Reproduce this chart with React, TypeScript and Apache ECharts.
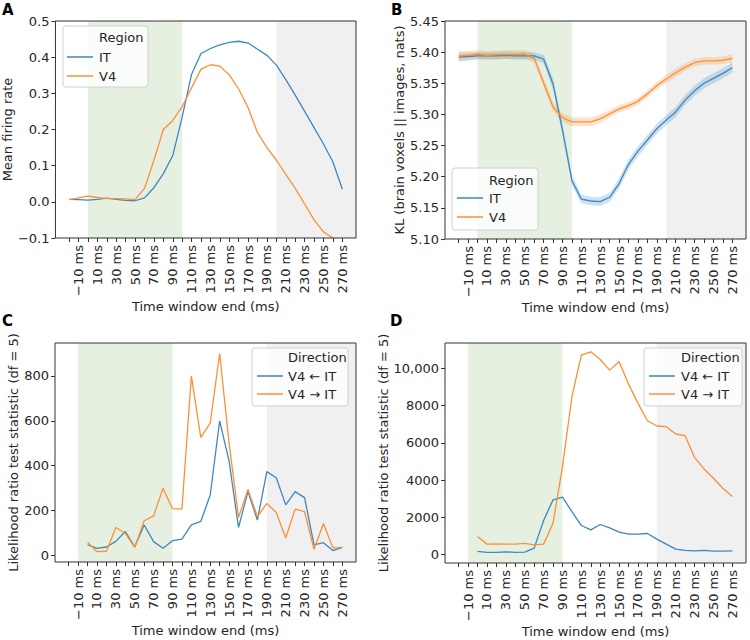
import React, { useEffect, useRef } from "react";
import * as echarts from "echarts";

// ---------- data ----------
const timesAB = [-20, -10, 0, 10, 20, 30, 40, 50, 60, 70, 80, 90, 100, 110, 120, 130, 140, 150, 160, 170, 180, 190, 200, 210, 220, 230, 240, 250, 260, 270];
const timesCD = [0, 10, 20, 30, 40, 50, 60, 70, 80, 90, 100, 110, 120, 130, 140, 150, 160, 170, 180, 190, 200, 210, 220, 230, 240, 250, 260, 270];
const tickValues = [-20, -10, 0, 10, 20, 30, 40, 50, 60, 70, 80, 90, 100, 110, 120, 130, 140, 150, 160, 170, 180, 190, 200, 210, 220, 230, 240, 250, 260, 270];
const labelValues = [-10, 10, 30, 50, 70, 90, 110, 130, 150, 170, 190, 210, 230, 250, 270];

// Panel A: mean firing rate
const rateIT = [0.007, 0.006, 0.005, 0.007, 0.010, 0.007, 0.004, 0.003, 0.011, 0.039, 0.078, 0.128, 0.235, 0.353, 0.410, 0.424, 0.434, 0.441, 0.444, 0.439, 0.422, 0.405, 0.378, 0.338, 0.295, 0.250, 0.205, 0.160, 0.110, 0.035];
const rateV4 = [0.006, 0.011, 0.016, 0.012, 0.009, 0.009, 0.008, 0.006, 0.037, 0.115, 0.200, 0.225, 0.263, 0.315, 0.367, 0.379, 0.375, 0.351, 0.312, 0.260, 0.191, 0.150, 0.115, 0.076, 0.037, -0.006, -0.050, -0.083, -0.100, -0.120];

// Panel B: KL
const klIT = [5.392, 5.393, 5.394, 5.394, 5.394, 5.395, 5.394, 5.394, 5.394, 5.389, 5.349, 5.275, 5.194, 5.164, 5.161, 5.160, 5.167, 5.189, 5.220, 5.241, 5.259, 5.277, 5.291, 5.304, 5.323, 5.338, 5.350, 5.358, 5.366, 5.375];
const klV4 = [5.394, 5.395, 5.397, 5.395, 5.396, 5.396, 5.396, 5.397, 5.390, 5.351, 5.312, 5.295, 5.288, 5.288, 5.288, 5.293, 5.301, 5.309, 5.314, 5.321, 5.333, 5.346, 5.357, 5.367, 5.376, 5.383, 5.386, 5.386, 5.387, 5.390];
const klITci = [0.007, 0.007, 0.006, 0.006, 0.006, 0.006, 0.006, 0.006, 0.006, 0.007, 0.009, 0.009, 0.008, 0.007, 0.007, 0.007, 0.007, 0.008, 0.008, 0.008, 0.008, 0.008, 0.008, 0.008, 0.008, 0.008, 0.008, 0.008, 0.008, 0.008];
const klV4ci = [0.008, 0.007, 0.007, 0.007, 0.007, 0.007, 0.007, 0.007, 0.007, 0.007, 0.007, 0.007, 0.007, 0.007, 0.007, 0.007, 0.006, 0.006, 0.006, 0.006, 0.006, 0.006, 0.007, 0.007, 0.006, 0.006, 0.006, 0.006, 0.006, 0.007];

// Panel C: likelihood ratio statistic
const lrC_fromIT = [47, 31, 37, 62, 106, 38, 135, 61, 31, 65, 72, 136, 151, 269, 600, 420, 124, 284, 157, 373, 346, 225, 284, 257, 46, 56, 21, 35];
const lrC_toIT = [58, 16, 18, 124, 98, 35, 154, 176, 299, 208, 206, 800, 526, 590, 900, 500, 169, 294, 172, 231, 191, 77, 206, 195, 27, 142, 33, 35];

// Panel D: likelihood ratio statistic
const lrD_fromIT = [161, 107, 107, 143, 107, 125, 340, 1825, 2934, 3077, 2300, 1556, 1324, 1610, 1431, 1199, 1091, 1091, 1127, 823, 555, 286, 215, 197, 215, 179, 179, 197];
const lrD_toIT = [966, 555, 573, 555, 555, 590, 519, 555, 1682, 4723, 8480, 10716, 10895, 10483, 9911, 10376, 9160, 8122, 7192, 6906, 6870, 6476, 6387, 5224, 4598, 4097, 3560, 3113];

const shadeAB = [0, 100, 200];
const shadeCD = [-10, 90, 190];
const ticksC = [0, 200, 400, 600, 800];
const ticksD = [0, 2000, 4000, 6000, 8000, 10000];

// ---------- styling ----------
const FONT = "DejaVu Sans";
const TXT = "#262626";
const BLUE = "#3d87c2";
const ORANGE = "#fd8f34";
const GREEN_BG = "#e5f0e1";
const GRAY_BG = "#f0f0f0";
const X_MIN = -34.5;
const X_MAX = 284.5;

const grids = [
  { left: 55, top: 21, width: 301, height: 217 },
  { left: 445, top: 21, width: 301, height: 218 },
  { left: 55, top: 343, width: 301, height: 219 },
  { left: 445, top: 343, width: 301, height: 220 },
];

const zip = (xs: number[], ys: number[]) => xs.map((x, i) => [x, ys[i]]);
const minus = (s: string) => s.replace("-", "\u2212");

function xAxisCfg(gridIndex: number) {
  return {
    type: "value",
    gridIndex,
    min: X_MIN,
    max: X_MAX,
    name: "Time window end (ms)",
    nameLocation: "middle",
    nameGap: 60,
    nameTextStyle: { fontFamily: FONT, fontSize: 13, color: TXT },
    axisLine: { show: false, onZero: false },
    axisTick: { show: true, length: 4, customValues: tickValues, lineStyle: { color: "#333", width: 1 } },
    axisLabel: {
      show: true,
      rotate: 90,
      margin: 7,
      customValues: labelValues,
      formatter: (v: number) => minus(String(v)) + " ms",
      fontFamily: FONT,
      fontSize: 13,
      color: TXT,
    },
    splitLine: { show: false },
  };
}

function yAxisCfg(gridIndex: number, extra: any) {
  return {
    type: "value",
    gridIndex,
    nameLocation: "middle",
    nameTextStyle: { fontFamily: FONT, fontSize: 13, color: TXT },
    axisLine: { show: false, onZero: false },
    splitLine: { show: false },
    ...extra,
    axisLabel: { fontFamily: FONT, fontSize: 13, color: TXT, margin: 6, ...(extra.axisLabel || {}) },
    axisTick: { show: true, length: 4, lineStyle: { color: "#333", width: 1 }, ...(extra.axisTick || {}) },
  };
}

function shading(bounds: number[]) {
  return {
    silent: true,
    z: 1,
    data: [
      [{ xAxis: bounds[0], itemStyle: { color: GREEN_BG } }, { xAxis: bounds[1] }],
      [{ xAxis: bounds[2], itemStyle: { color: GRAY_BG } }, { xAxis: X_MAX }],
    ],
  };
}

function lineSeries(idx: number, data: number[][], color: string, extra: any = {}) {
  return {
    type: "line",
    xAxisIndex: idx,
    yAxisIndex: idx,
    data,
    symbol: "none",
    showSymbol: false,
    clip: true,
    lineStyle: { color, width: 1.3 },
    itemStyle: { color },
    z: 3,
    ...extra,
  };
}

function bandSeries(idx: number, xs: number[], ys: number[], ci: number[], color: string) {
  const data = xs.map((x, i) => [x, ys[i] - ci[i], ys[i] + ci[i]]);
  return {
    type: "custom",
    xAxisIndex: idx,
    yAxisIndex: idx,
    data,
    silent: true,
    z: 2,
    encode: { x: 0, y: [1, 2] },
    renderItem: (params: any, api: any) => {
      if (params.dataIndex !== 0) return null;
      const upper = data.map((d) => api.coord([d[0], d[2]]));
      const lower = data.map((d) => api.coord([d[0], d[1]])).reverse();
      return {
        type: "polygon",
        shape: { points: upper.concat(lower) },
        style: { fill: color, stroke: "none" },
      };
    },
  };
}

function legend(box: number[], title: string, labels: string[], colors: string[], lineX: number[], textX: number, rowsY: number[]) {
  const els: any[] = [
    {
      type: "rect", z: 100,
      shape: { x: box[0], y: box[1], width: box[2], height: box[3], r: 3 },
      style: { fill: "rgba(255,255,255,0.8)", stroke: "#d0d0d0", lineWidth: 1 },
    },
    {
      type: "text", z: 101, x: textX, y: rowsY[0],
      style: { text: title, fontFamily: FONT, fontSize: 13, fill: TXT, align: "left", verticalAlign: "middle" },
    },
  ];
  labels.forEach((lab, i) => {
    els.push({
      type: "line", z: 101,
      shape: { x1: lineX[0], y1: rowsY[i + 1], x2: lineX[1], y2: rowsY[i + 1] },
      style: { stroke: colors[i], lineWidth: 1.5 },
    });
    els.push({
      type: "text", z: 101, x: textX, y: rowsY[i + 1],
      style: { text: lab, fontFamily: FONT, fontSize: 13, fill: TXT, align: "left", verticalAlign: "middle" },
    });
  });
  return els;
}

function letter(t: string, x: number, y: number) {
  return {
    type: "text", z: 100, x, y,
    style: { text: t, fontFamily: FONT, fontSize: 15, fontWeight: "bold", fill: "#000", align: "left", verticalAlign: "middle" },
  };
}

export default function App() {
  const ref = useRef<HTMLDivElement>(null);
  useEffect(() => {
    if (!ref.current) return;
    const chart = echarts.init(ref.current, undefined, { renderer: "svg" });
    const option: any = {
      animation: false,
      grid: grids.map((g) => ({
        ...g, show: true, z: 10, backgroundColor: "rgba(0,0,0,0)", borderColor: "#333", borderWidth: 1,
      })),
      xAxis: [xAxisCfg(0), xAxisCfg(1), xAxisCfg(2), xAxisCfg(3)],
      yAxis: [
        yAxisCfg(0, {
          min: -0.1, max: 0.5, interval: 0.1, name: "Mean firing rate", nameGap: 38,
          axisLabel: { formatter: (v: number) => { const r = Math.round(v * 10) / 10; return (r < 0 ? "\u2212" : "") + Math.abs(r).toFixed(1); } },
        }),
        yAxisCfg(1, {
          min: 5.1, max: 5.45, interval: 0.05, name: "KL (brain voxels || images, nats)", nameGap: 35,
          axisLabel: { formatter: (v: number) => v.toFixed(2) },
        }),
        yAxisCfg(2, {
          min: -30, max: 947, name: "Likelihood ratio test statistic (df = 5)", nameGap: 35,
          axisLabel: { customValues: ticksC, formatter: (v: number) => String(v) },
          axisTick: { customValues: ticksC },
        }),
        yAxisCfg(3, {
          min: -460, max: 11370, name: "Likelihood ratio test statistic (df = 5)", nameGap: 54,
          axisLabel: { customValues: ticksD, formatter: (v: number) => (v >= 10000 ? v.toLocaleString("en-US") : String(v)) },
          axisTick: { customValues: ticksD },
        }),
      ],
      series: [
        lineSeries(0, zip(timesAB, rateIT), BLUE, { markArea: shading(shadeAB) }),
        lineSeries(0, zip(timesAB, rateV4), ORANGE),
        bandSeries(1, timesAB, klIT, klITci, "rgba(61,135,194,0.25)"),
        bandSeries(1, timesAB, klV4, klV4ci, "rgba(253,143,52,0.25)"),
        lineSeries(1, zip(timesAB, klIT), BLUE, { markArea: shading(shadeAB) }),
        lineSeries(1, zip(timesAB, klV4), ORANGE),
        lineSeries(2, zip(timesCD, lrC_fromIT), BLUE, { markArea: shading(shadeCD) }),
        lineSeries(2, zip(timesCD, lrC_toIT), ORANGE),
        lineSeries(3, zip(timesCD, lrD_fromIT), BLUE, { markArea: shading(shadeCD) }),
        lineSeries(3, zip(timesCD, lrD_toIT), ORANGE),
      ],
      graphic: [
        letter("A", 2, 10),
        letter("B", 391, 10),
        letter("C", 2, 321),
        letter("D", 390, 321),
        ...legend([63, 26, 85, 61], "Region", ["IT", "V4"], [BLUE, ORANGE], [67, 93], 99, [37, 57, 76]),
        ...legend([452, 168, 86, 62], "Region", ["IT", "V4"], [BLUE, ORANGE], [457, 483], 489, [180, 198, 217]),
        ...legend([252, 348, 96, 58], "Direction", ["V4 \u2190 IT", "V4 \u2192 IT"], [BLUE, ORANGE], [257, 283], 288, [357, 376, 394]),
        ...legend([644, 348, 98, 58], "Direction", ["V4 \u2190 IT", "V4 \u2192 IT"], [BLUE, ORANGE], [649, 675], 681, [357, 376, 394]),
      ],
    };
    chart.setOption(option);
    return () => chart.dispose();
  }, []);
  return (
    <div
      ref={ref}
      style={{ position: "absolute", left: 0, top: 0, width: 750, height: 640, background: "#fff" }}
    />
  );
}
